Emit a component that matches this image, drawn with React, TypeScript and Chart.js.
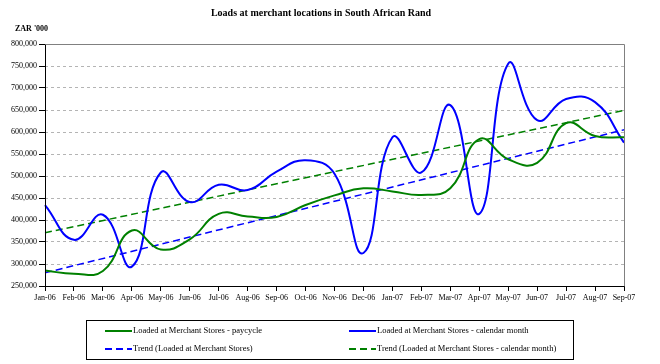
import React, { useEffect, useRef } from "react";
import { Chart, registerables } from "chart.js";

Chart.register(...registerables);

const months = [
  "Jan-06", "Feb-06", "Mar-06", "Apr-06", "May-06", "Jun-06", "Jul-06", "Aug-06", "Sep-06", "Oct-06", "Nov-06",
  "Dec-06", "Jan-07", "Feb-07", "Mar-07", "Apr-07", "May-07", "Jun-07", "Jul-07", "Aug-07", "Sep-07",
];

const paycycle = [
  285000, 278000, 284000, 376000, 333000, 356000, 414000, 408000, 407000, 434000, 456000,
  472000, 465000, 457000, 472000, 584000, 538000, 530000, 620000, 591000, 588000,
];

const calendarMonth = [
  434000, 355000, 412000, 294000, 508000, 441000, 480000, 468000, 510000, 536000, 505000,
  325000, 588000, 508000, 661000, 414000, 755000, 627000, 675000, 668000, 576000,
];

// trend line end points (first and last month)
const trendPaycycle = [280000, 605000];
const trendCalendar = [371000, 649000];

const title = "Loads at merchant locations in South African Rand";
const unitLabel = "ZAR '000";
const legendLabels = [
  "Loaded at Merchant Stores - paycycle",
  "Loaded at Merchant Stores - calendar month",
  "Trend (Loaded at Merchant Stores)",
  "Trend (Loaded at Merchant Stores - calendar month)",
];

const GREEN = "#008000";
const BLUE = "#0000ff";
const FONT = "'Times New Roman', 'Liberation Serif', serif";

const decorPlugin = {
  id: "decor",
  afterDraw(chart: any) {
    const { ctx, chartArea } = chart;
    const { left, right, top, bottom } = chartArea;
    ctx.save();
    // frame
    ctx.setLineDash([]);
    ctx.lineWidth = 1;
    ctx.strokeStyle = "#808080";
    ctx.beginPath();
    ctx.moveTo(Math.round(left) + 0.5, Math.round(top) + 0.5);
    ctx.lineTo(Math.round(right) + 0.5, Math.round(top) + 0.5);
    ctx.lineTo(Math.round(right) + 0.5, Math.round(bottom) + 0.5);
    ctx.stroke();
    ctx.strokeStyle = "#000000";
    ctx.beginPath();
    ctx.moveTo(Math.round(left) + 0.5, Math.round(top) + 0.5);
    ctx.lineTo(Math.round(left) + 0.5, Math.round(bottom) + 0.5);
    ctx.lineTo(Math.round(right) + 0.5, Math.round(bottom) + 0.5);
    ctx.stroke();

    // title
    ctx.fillStyle = "#000";
    ctx.font = `bold 10px ${FONT}`;
    ctx.textAlign = "center";
    ctx.textBaseline = "middle";
    ctx.fillText(title, 321, 13);
    ctx.font = `bold 8px ${FONT}`;
    ctx.textAlign = "left";
    ctx.fillText(unitLabel, 15, 29);

    // legend
    const lx = 86, ly = 320, lw = 487, lh = 39;
    ctx.strokeStyle = "#000";
    ctx.lineWidth = 1;
    ctx.strokeRect(lx + 0.5, ly + 0.5, lw, lh);
    const items = [
      { x: 105, y: 331, color: GREEN, dash: [] as number[], w: 2, text: legendLabels[0] },
      { x: 349, y: 331, color: BLUE, dash: [] as number[], w: 2, text: legendLabels[1] },
      { x: 105, y: 349, color: BLUE, dash: [7, 4], w: 2, text: legendLabels[2] },
      { x: 349, y: 349, color: GREEN, dash: [7, 4], w: 2, text: legendLabels[3] },
    ];
    ctx.font = `8.5px ${FONT}`;
    ctx.textBaseline = "middle";
    for (const it of items) {
      ctx.strokeStyle = it.color;
      ctx.lineWidth = it.w;
      ctx.setLineDash(it.dash);
      ctx.beginPath();
      ctx.moveTo(it.x, it.y);
      ctx.lineTo(it.x + 27, it.y);
      ctx.stroke();
      ctx.setLineDash([]);
      ctx.fillStyle = "#000";
      ctx.fillText(it.text, it.x + 28, it.y);
    }
    ctx.restore();
  },
};

export default function App() {
  const ref = useRef<HTMLCanvasElement | null>(null);

  useEffect(() => {
    if (!ref.current) return;
    const first = months[0];
    const last = months[months.length - 1];
    const chart = new Chart(ref.current, {
      type: "line",
      data: {
        labels: months,
        datasets: [
          {
            label: legendLabels[0],
            data: paycycle,
            borderColor: GREEN,
            borderWidth: 2,
            pointRadius: 0,
            tension: 0.45,
            fill: false,
          },
          {
            label: legendLabels[1],
            data: calendarMonth,
            borderColor: BLUE,
            borderWidth: 2,
            pointRadius: 0,
            tension: 0.45,
            fill: false,
          },
          {
            label: legendLabels[2],
            data: [
              { x: first, y: trendPaycycle[0] },
              { x: last, y: trendPaycycle[1] },
            ] as any,
            borderColor: BLUE,
            borderWidth: 1.5,
            borderDash: [7, 4],
            pointRadius: 0,
            tension: 0,
            fill: false,
          },
          {
            label: legendLabels[3],
            data: [
              { x: first, y: trendCalendar[0] },
              { x: last, y: trendCalendar[1] },
            ] as any,
            borderColor: GREEN,
            borderWidth: 1.5,
            borderDash: [7, 4],
            pointRadius: 0,
            tension: 0,
            fill: false,
          },
        ],
      },
      options: {
        animation: false,
        responsive: false,
        maintainAspectRatio: false,
        layout: { padding: { left: 0, right: 36, top: 44, bottom: 58 } },
        plugins: {
          legend: { display: false },
          title: { display: false },
          tooltip: { enabled: false },
        },
        scales: {
          x: {
            type: "category",
            offset: false,
            border: { display: false },
            grid: {
              display: true,
              drawOnChartArea: false,
              drawTicks: true,
              tickLength: 5,
              tickColor: "#000",
              tickWidth: 1,
            },
            ticks: {
              autoSkip: false,
              maxRotation: 0,
              minRotation: 0,
              padding: 2,
              color: "#000",
              font: { family: FONT, size: 8 },
            },
            afterFit(scale: any) {
              scale.height = 20;
            },
          },
          y: {
            min: 250000,
            max: 800000,
            border: { display: false, dash: [3, 3] },
            grid: {
              color: (c: any) =>
                c.tick && (c.tick.value === 800000 || c.tick.value === 250000) ? "rgba(0,0,0,0)" : "#b4b4b4",
              lineWidth: 1,
              drawTicks: true,
              tickLength: 6,
              tickColor: "#000",
              tickWidth: 1,
              tickBorderDash: [],
            },
            ticks: {
              stepSize: 50000,
              padding: 2,
              color: "#000",
              font: { family: FONT, size: 8 },
              callback: (v: any) => Number(v).toLocaleString("en-US"),
            },
            afterFit(scale: any) {
              scale.width = 45;
            },
          },
        },
      },
      plugins: [decorPlugin],
    });
    return () => chart.destroy();
  }, []);

  return (
    <div style={{ position: "fixed", left: 0, top: 0, width: 660, height: 364, background: "#fff" }}>
      <canvas ref={ref} width={660} height={364} style={{ width: 660, height: 364, display: "block" }} />
    </div>
  );
}
